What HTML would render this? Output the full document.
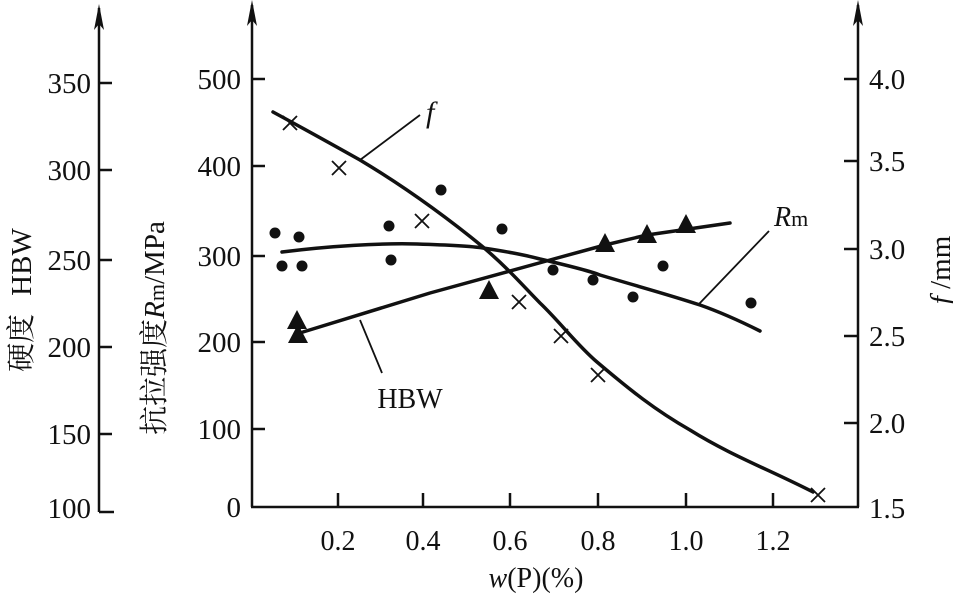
<!DOCTYPE html>
<html><head><meta charset="utf-8"><style>
html,body{margin:0;padding:0;background:#fff;}
svg{display:block}
text{font-family:"Liberation Serif","Noto Serif CJK SC",serif;fill:#111;}
</style></head><body>
<svg width="953" height="594" viewBox="0 0 953 594" xmlns="http://www.w3.org/2000/svg">
<g stroke="#111" stroke-width="2.5" fill="none">
<line x1="99" y1="8" x2="99" y2="512"/>
<line x1="99" y1="512" x2="114" y2="512"/>
<line x1="99" y1="83" x2="112" y2="83"/>
<line x1="99" y1="170" x2="112" y2="170"/>
<line x1="99" y1="260" x2="112" y2="260"/>
<line x1="99" y1="347" x2="112" y2="347"/>
<line x1="99" y1="434" x2="112" y2="434"/>
<line x1="252" y1="5" x2="252" y2="507"/>
<line x1="252" y1="79" x2="265" y2="79"/>
<line x1="252" y1="166" x2="265" y2="166"/>
<line x1="252" y1="256" x2="265" y2="256"/>
<line x1="252" y1="342" x2="265" y2="342"/>
<line x1="252" y1="429" x2="265" y2="429"/>
<line x1="251" y1="507" x2="859" y2="507"/>
<line x1="338" y1="507" x2="338" y2="493"/>
<line x1="423" y1="507" x2="423" y2="493"/>
<line x1="510" y1="507" x2="510" y2="493"/>
<line x1="598" y1="507" x2="598" y2="493"/>
<line x1="686" y1="507" x2="686" y2="493"/>
<line x1="773" y1="507" x2="773" y2="493"/>
<line x1="858" y1="5" x2="858" y2="507"/>
<line x1="844" y1="79" x2="858" y2="79"/>
<line x1="844" y1="161" x2="858" y2="161"/>
<line x1="844" y1="249" x2="858" y2="249"/>
<line x1="844" y1="336" x2="858" y2="336"/>
<line x1="844" y1="423" x2="858" y2="423"/>
</g>
<g fill="#111">
<polygon points="99,4 94,30 99,24 104,30"/>
<polygon points="252,0 247,26 252,20 257,26"/>
<polygon points="858,0 853,26 858,20 863,26"/>
</g>
<g stroke="#111" stroke-width="3.5" fill="none" stroke-linejoin="round" stroke-linecap="round">
<path d="M273,112 C310,132 335,146 360,160 C410,190 450,220 483,247 C510,270 525,288 540,303 C560,322 577,345 597,362 C630,390 655,410 690,430 C730,455 770,470 813,492"/>
<path d="M282,252 C330,246 380,243 417,244 C450,245 470,246 483,248 C510,252 525,255 540,259 C570,266 590,271 600,275 C640,287 670,295 700,305 C720,312 740,321 760,331"/>
<path d="M303,332 L430,293 L550,260 L605,245 L647,235 L730,223"/>
</g>
<g stroke="#111" stroke-width="1.8">
<line x1="420" y1="115" x2="360" y2="160"/>
<line x1="769" y1="231" x2="699" y2="304"/>
<line x1="360" y1="320" x2="382" y2="373"/>
</g>
<g stroke="#111" stroke-width="1.8">
<path d="M283,116 L297,130 M297,116 L283,130"/>
<path d="M332,161 L346,175 M346,161 L332,175"/>
<path d="M415,214 L429,228 M429,214 L415,228"/>
<path d="M512,295 L526,309 M526,295 L512,309"/>
<path d="M554,329 L568,343 M568,329 L554,343"/>
<path d="M591,368 L605,382 M605,368 L591,382"/>
<path d="M811,488 L825,502 M825,488 L811,502"/>
</g>
<g fill="#111">
<circle cx="275" cy="233" r="5.5"/><circle cx="299" cy="237" r="5.5"/>
<circle cx="282" cy="266" r="5.5"/><circle cx="302" cy="266" r="5.5"/>
<circle cx="389" cy="226" r="5.5"/><circle cx="391" cy="260" r="5.5"/>
<circle cx="441" cy="190" r="5.5"/><circle cx="502" cy="229" r="5.5"/>
<circle cx="553" cy="270" r="5.5"/><circle cx="593" cy="280" r="5.5"/>
<circle cx="633" cy="297" r="5.5"/><circle cx="663" cy="266" r="5.5"/>
<circle cx="751" cy="303" r="5.5"/>
<polygon points="297,310 287,329 307,329"/>
<polygon points="298,324 288,343 308,343"/>
<polygon points="489,280 479,299 499,299"/>
<polygon points="605,233 595,252 615,252"/>
<polygon points="647,224 637,243 657,243"/>
<polygon points="686,214 676,233 696,233"/>
</g>
<g font-size="29" text-anchor="end">
<text x="91" y="93">350</text><text x="91" y="180">300</text><text x="91" y="270">250</text>
<text x="91" y="357">200</text><text x="91" y="444">150</text><text x="91" y="518">100</text>
<text x="241" y="89">500</text><text x="241" y="176">400</text><text x="241" y="266">300</text>
<text x="241" y="352">200</text><text x="241" y="439">100</text><text x="241" y="517">0</text>
</g>
<g font-size="29">
<text x="869" y="89">4.0</text><text x="869" y="171">3.5</text><text x="869" y="259">3.0</text>
<text x="869" y="346">2.5</text><text x="869" y="433">2.0</text><text x="869" y="518">1.5</text>
</g>
<g font-size="28" text-anchor="middle">
<text x="338" y="550">0.2</text><text x="423" y="550">0.4</text><text x="510" y="550">0.6</text>
<text x="598" y="550">0.8</text><text x="686" y="550">1.0</text><text x="773" y="550">1.2</text>
<text x="536" y="587"><tspan font-style="italic">w</tspan>(P)(%)</text>
<text x="410" y="408">HBW</text>
</g>
<text x="426" y="122" font-size="30" font-style="italic">f</text>
<text x="774" y="226" font-size="28"><tspan font-style="italic">R</tspan><tspan font-size="22">m</tspan></text>
<text transform="translate(31,300) rotate(-90)" font-size="29" text-anchor="middle">硬度<tspan dx="18">HBW</tspan></text>
<text transform="translate(164,328) rotate(-90)" font-size="29" text-anchor="middle">抗拉强度<tspan font-style="italic">R</tspan><tspan font-size="22">m</tspan>/MPa</text>
<text transform="translate(950,270) rotate(-90)" font-size="29" text-anchor="middle"><tspan font-style="italic">f</tspan> /mm</text>
</svg>
</body></html>
